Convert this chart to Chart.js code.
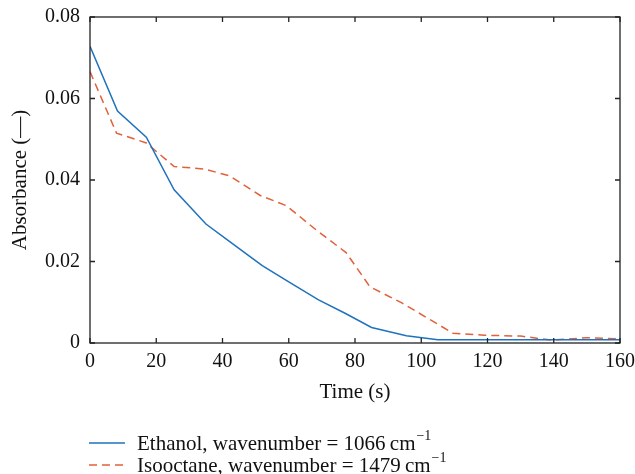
<!DOCTYPE html>
<html>
<head>
<meta charset="utf-8">
<script src="https://cdn.jsdelivr.net/npm/chart.js@4"></script>
<style>
  html, body { margin: 0; padding: 0; background: #fff; }
  #wrap { width: 635px; height: 474px; }
</style>
</head>
<body>
<div id="wrap"><canvas id="c" width="635" height="474"></canvas></div>
<script>
// ---- data ----
const ethanolTimes  = [0, 8.3, 17, 25.4, 35, 43, 52, 60, 69, 77, 85, 95.5, 105, 120, 140, 160];
const ethanolValues = [0.0728, 0.0569, 0.0505, 0.0376, 0.0292, 0.0244, 0.0190, 0.0150, 0.0106, 0.0073, 0.0038, 0.0018, 0.0008, 0.0008, 0.0008, 0.0008];

const isooctaneTimes  = [0, 8, 17, 25.4, 34.5, 42.2, 51.4, 59.3, 68.5, 77.3, 84.5, 94, 109.6, 119, 130, 139.3, 150, 160];
const isooctaneValues = [0.0666, 0.0515, 0.0491, 0.0433, 0.0427, 0.0410, 0.0362, 0.0337, 0.0276, 0.0222, 0.0138, 0.0099, 0.0024, 0.0019, 0.0017, 0.0007, 0.0013, 0.0010];

const seriesLabels = ['Ethanol, wavenumber = 1066\u2009cm', 'Isooctane, wavenumber = 1479\u2009cm'];
const seriesLabelSup = ['\u22121', '\u22121'];
const xTickValues = [0, 20, 40, 60, 80, 100, 120, 140, 160];
const yTickValues = [0, 0.02, 0.04, 0.06, 0.08];
const xTitle = 'Time (s)';
const yTitle = 'Absorbance (\u2014)';

const FONT = "'Liberation Serif', 'Times New Roman', serif";
const BLUE = '#1f72bd';
const ORANGE = '#e2603a';

const toPoints = (xs, ys) => xs.map((x, i) => ({ x: x, y: ys[i] }));

// frame, inward ticks and legend
const framePlugin = {
  id: 'frame',
  afterDraw(chart) {
    const ctx = chart.ctx;
    const a = chart.chartArea;
    const xs = chart.scales.x, ys = chart.scales.y;
    ctx.save();
    ctx.strokeStyle = '#222';
    ctx.lineWidth = 1.3;
    ctx.strokeRect(a.left, a.top, a.right - a.left, a.bottom - a.top);
    const tl = 5;
    ctx.beginPath();
    xTickValues.forEach(v => {
      const px = xs.getPixelForValue(v);
      ctx.moveTo(px, a.bottom); ctx.lineTo(px, a.bottom - tl);
      ctx.moveTo(px, a.top); ctx.lineTo(px, a.top + tl);
    });
    yTickValues.forEach(v => {
      const py = ys.getPixelForValue(v);
      ctx.moveTo(a.left, py); ctx.lineTo(a.left + tl, py);
      ctx.moveTo(a.right, py); ctx.lineTo(a.right - tl, py);
    });
    ctx.stroke();

    // legend
    const rows = [443, 465];
    chart.data.datasets.forEach((ds, i) => {
      const y = rows[i];
      ctx.beginPath();
      ctx.strokeStyle = ds.borderColor;
      ctx.lineWidth = ds.borderWidth;
      ctx.setLineDash(ds.borderDash || []);
      ctx.moveTo(89, y); ctx.lineTo(125, y);
      ctx.stroke();
      ctx.setLineDash([]);
      ctx.fillStyle = '#111';
      ctx.font = '21px ' + FONT;
      ctx.textBaseline = 'alphabetic';
      ctx.textAlign = 'left';
      const base = y + 7;
      ctx.fillText(ds.label, 137, base);
      const w = ctx.measureText(ds.label).width;
      ctx.font = '14px ' + FONT;
      ctx.fillText(seriesLabelSup[i], 137 + w + 1, base - 10);
    });
    ctx.restore();
  }
};

new Chart(document.getElementById('c'), {
  type: 'line',
  data: {
    datasets: [
      {
        label: seriesLabels[0],
        data: toPoints(ethanolTimes, ethanolValues),
        borderColor: BLUE,
        borderWidth: 1.5,
        pointRadius: 0,
        fill: false,
        tension: 0
      },
      {
        label: seriesLabels[1],
        data: toPoints(isooctaneTimes, isooctaneValues),
        borderColor: ORANGE,
        borderWidth: 1.5,
        borderDash: [8, 5],
        pointRadius: 0,
        fill: false,
        tension: 0
      }
    ]
  },
  options: {
    responsive: false,
    animation: false,
    devicePixelRatio: 1,
    layout: { autoPadding: false, padding: { top: 17, right: 15, bottom: 69, left: 0 } },
    plugins: {
      legend: { display: false },
      tooltip: { enabled: false }
    },
    scales: {
      x: {
        type: 'linear',
        min: 0, max: 160,
        afterBuildTicks: s => { s.ticks = xTickValues.map(v => ({ value: v })); },
        afterFit: s => { s.height = 62; s.paddingLeft = 0; s.paddingRight = 0; },
        grid: { display: false, drawTicks: false },
        border: { display: false },
        ticks: {
          padding: 7,
          color: '#111',
          font: { family: FONT, size: 20 },
          maxRotation: 0,
          callback: v => String(v)
        },
        title: {
          display: true,
          text: xTitle,
          color: '#111',
          font: { family: FONT, size: 21 },
          padding: { top: 0, bottom: 0 }
        }
      },
      y: {
        type: 'linear',
        min: 0, max: 0.08,
        afterBuildTicks: s => { s.ticks = yTickValues.map(v => ({ value: v })); },
        afterFit: s => { s.width = 90; s.paddingTop = 0; s.paddingBottom = 0; },
        grid: { display: false, drawTicks: false },
        border: { display: false },
        ticks: {
          padding: 10,
          color: '#111',
          font: { family: FONT, size: 20 },
          callback: v => (v === 0 ? '0' : v.toFixed(2))
        },
        title: {
          display: true,
          text: yTitle,
          color: '#111',
          font: { family: FONT, size: 21 },
          padding: { top: 8, bottom: 0 }
        }
      }
    }
  },
  plugins: [framePlugin]
});
</script>
</body>
</html>
